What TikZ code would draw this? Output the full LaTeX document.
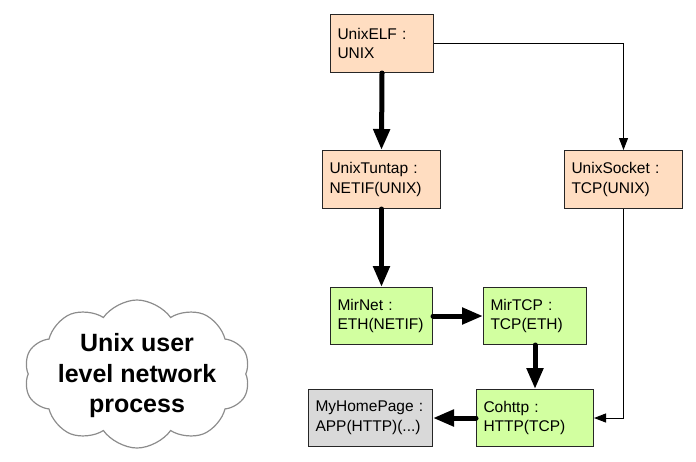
\documentclass[tikz,border=0pt]{standalone}
\usepackage{fontspec}
\setmainfont{Liberation Sans}
\usetikzlibrary{arrows.meta,shapes.symbols}
\definecolor{peach}{RGB}{255,221,193}
\definecolor{lgreen}{RGB}{210,255,160}
\definecolor{lgray}{RGB}{217,217,217}
\tikzset{
  box/.style={draw=black!85, line width=1pt, rectangle, inner xsep=6pt, inner ysep=0pt,
    align=left, font=\fontsize{15.5}{19.5}\selectfont, anchor=north west},
  thick arrow/.style={line width=5pt, line cap=round, -{Triangle[length=21pt,width=16pt]}},
  thin arrow/.style={line width=1pt, -{Triangle[length=12pt,width=9pt]}},
}
\begin{document}
\begin{tikzpicture}[x=1pt,y=-1pt]
\useasboundingbox (0,0) rectangle (696,461);
% boxes
\node[box, fill=peach, minimum width=103, minimum height=58, text width=89] (elf) at (330,14) {UnixELF :\\UNIX};
\node[box, fill=peach, minimum width=118, minimum height=58, text width=104] (tun) at (322,150) {UnixTuntap :\\NETIF(UNIX)};
\node[box, fill=peach, minimum width=118, minimum height=58, text width=104] (sock) at (564,150) {UnixSocket :\\TCP(UNIX)};
\node[box, fill=lgreen, minimum width=102, minimum height=57, text width=88] (net) at (330,287) {MirNet :\\ETH(NETIF)};
\node[box, fill=lgreen, minimum width=103, minimum height=57, text width=89] (tcp) at (483,287) {MirTCP :\\TCP(ETH)};
\node[box, fill=lgray, minimum width=124, minimum height=57, text width=110] (home) at (308,389) {MyHomePage :\\APP(HTTP)(...)};
\node[box, fill=lgreen, minimum width=117, minimum height=57, text width=103] (http) at (476,389) {Cohttp :\\HTTP(TCP)};
% cloud
\node[cloud, cloud puffs=10, cloud puff arc=110, aspect=1.55, draw=black!45, line width=1.2pt,
  minimum width=226, minimum height=148, inner sep=0pt] (cloud) at (137,374) {};
\node[align=center, font=\fontsize{25}{30.5}\selectfont\bfseries] (cloudtxt) at (137,376) {Unix user\\level network\\process};
% connectors
\draw[thick arrow] (elf.south) -- (tun.north);
\draw[thick arrow] (tun.south) -- (net.north);
\draw[thick arrow] (net.east) -- (tcp.west);
\draw[thick arrow] (tcp.south) -- (tcp.south |- http.north);
\draw[thick arrow] (http.west) -- (home.east);
\draw[thin arrow] (elf.east) -| (sock.north);
\draw[thin arrow] (sock.south) |- (http.east);
\end{tikzpicture}
\end{document}
